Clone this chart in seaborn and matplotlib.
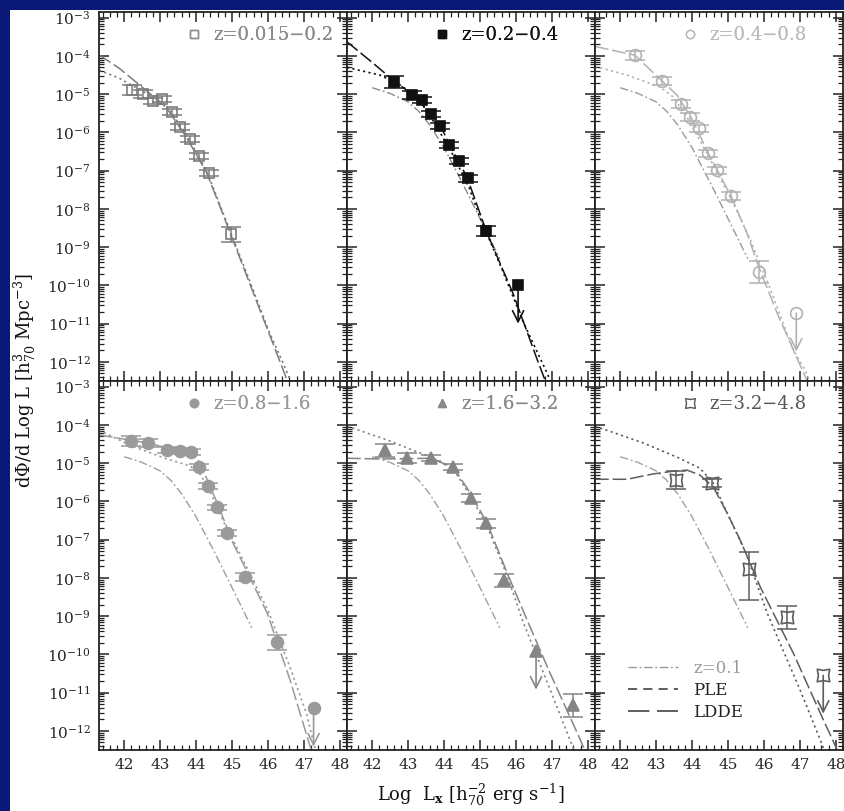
import numpy as np
import pandas as pd
import matplotlib
matplotlib.use("Agg")
import matplotlib.pyplot as plt
import seaborn as sns
from matplotlib.lines import Line2D
from matplotlib.patches import Rectangle
from matplotlib.path import Path
from matplotlib.ticker import FixedLocator, MultipleLocator, FuncFormatter, NullFormatter

sns.set_style("ticks")
plt.rcParams["font.family"] = ["DejaVu Serif", "DejaVu Sans"]
plt.rcParams["mathtext.fontset"] = "dejavuserif"

# ---------------- data (x: log L_x, y: log10 dPhi/dlogL) ----------------
panel_labels = ["z=0.015\u22120.2", "z=0.2\u22120.4", "z=0.4\u22120.8",
                "z=0.8\u22121.6", "z=1.6\u22123.2", "z=3.2\u22124.8"]
y_decades = [-3, -4, -5, -6, -7, -8, -9, -10, -11, -12]
x_ticks = [42, 43, 44, 45, 46, 47, 48]

# reference z=0.1 luminosity function (dash-dot)
z01_L = [42.0, 42.5, 43.0, 43.3, 43.6, 44.0, 44.5, 45.0, 45.55]
z01_phi = [-4.83, -4.98, -5.2, -5.45, -5.8, -6.4, -7.3, -8.25, -9.3]

# panel 1: z=0.015-0.2
p1_L = [42.22, 42.53, 42.80, 43.05, 43.33, 43.56, 43.83, 44.09, 44.36, 44.98]
p1_phi = [-4.89, -5.00, -5.18, -5.13, -5.47, -5.86, -6.17, -6.62, -7.06, -8.66]
p1_err = [0.14, 0.1, 0.08, 0.08, 0.08, 0.07, 0.07, 0.08, 0.08, 0.2]
p1_ldde_L = [41.3, 41.86, 42.43, 43.17, 43.73, 44.3, 44.65, 45.0, 45.76, 46.4, 46.7]
p1_ldde_phi = [-3.97, -4.32, -4.76, -5.34, -6.12, -7.06, -7.9, -8.75, -10.6, -12.15, -12.9]
p1_ple_L = [41.3, 41.86, 42.7, 43.17, 43.73, 44.29, 45.0, 45.5, 46.03, 46.5, 46.8]
p1_ple_phi = [-4.37, -4.58, -5.02, -5.3, -6.05, -7.0, -8.7, -9.9, -11.2, -12.2, -12.9]

# panel 2: z=0.2-0.4
p2_L = [42.61, 43.11, 43.39, 43.64, 43.89, 44.14, 44.42, 44.67, 45.17]
p2_phi = [-4.68, -5.02, -5.15, -5.52, -5.83, -6.33, -6.75, -7.2, -8.58]
p2_err = [0.15, 0.1, 0.08, 0.08, 0.08, 0.08, 0.08, 0.1, 0.13]
p2_lim_L = [46.06]
p2_lim_phi = [-10.0]
p2_ldde_L = [41.3, 41.99, 42.58, 43.11, 43.64, 43.89, 44.14, 44.64, 45.2, 45.92, 46.6, 46.9]
p2_ldde_phi = [-3.63, -4.16, -4.63, -5.0, -5.5, -5.8, -6.3, -7.17, -8.64, -10.21, -11.96, -12.7]
p2_ple_L = [41.3, 42.22, 42.78, 43.25, 43.7, 44.2, 44.7, 45.0, 45.6, 46.2, 46.87, 47.0]
p2_ple_phi = [-4.3, -4.5, -4.76, -5.07, -5.7, -6.5, -7.45, -8.22, -9.55, -10.95, -12.3, -12.6]

# panel 3: z=0.4-0.8
p3_L = [42.41, 43.17, 43.7, 43.95, 44.2, 44.45, 44.7, 45.09, 45.87]
p3_phi = [-3.98, -4.66, -5.26, -5.6, -5.89, -6.54, -6.99, -7.67, -9.65]
p3_err = [0.12, 0.1, 0.1, 0.1, 0.09, 0.09, 0.09, 0.1, 0.28]
p3_lim_L = [46.9]
p3_lim_phi = [-10.73]
p3_ldde_L = [41.3, 42.41, 43.17, 43.58, 44.0, 44.45, 45.09, 45.53, 45.87, 46.37, 47.07, 47.3]
p3_ldde_phi = [-3.75, -3.98, -4.66, -5.02, -5.65, -6.54, -7.67, -8.64, -9.55, -10.73, -12.22, -12.7]
p3_ple_L = [41.3, 42.19, 43.11, 43.47, 43.86, 44.45, 45.09, 45.6, 46.2, 46.82, 47.15, 47.4]
p3_ple_phi = [-4.27, -4.5, -4.81, -5.07, -5.6, -6.6, -7.75, -8.75, -10.15, -11.7, -12.22, -12.8]

# panel 4: z=0.8-1.6
p4_L = [42.19, 42.66, 43.19, 43.56, 43.86, 44.09, 44.34, 44.59, 44.86, 45.37, 46.26]
p4_phi = [-4.42, -4.47, -4.66, -4.68, -4.71, -5.1, -5.6, -6.15, -6.83, -7.98, -9.68]
p4_err = [0.13, 0.1, 0.08, 0.07, 0.07, 0.07, 0.07, 0.07, 0.08, 0.1, 0.2]
p4_lim_L = [47.27]
p4_lim_phi = [-11.41]
p4_ldde_L = [41.3, 42.19, 42.66, 43.19, 43.89, 44.11, 44.59, 45.03, 45.98, 46.62, 47.18, 47.4]
p4_ldde_phi = [-4.26, -4.4, -4.47, -4.6, -4.68, -5.0, -6.04, -7.09, -8.92, -10.68, -12.43, -13.0]
p4_ple_L = [41.3, 42.16, 43.19, 43.83, 44.11, 44.4, 44.8, 45.23, 46.0, 46.6, 47.07, 47.35]
p4_ple_phi = [-4.13, -4.53, -4.89, -5.07, -5.28, -5.75, -6.6, -7.38, -8.85, -10.3, -11.54, -12.6]

# panel 5: z=1.6-3.2
p5_L = [42.36, 42.97, 43.64, 44.25, 44.75, 45.17, 45.67, 47.6]
p5_phi = [-4.66, -4.87, -4.87, -5.1, -5.91, -6.57, -8.06, -11.33]
p5_err = [0.17, 0.13, 0.08, 0.08, 0.1, 0.12, 0.17, 0.3]
p5_lim_L = [46.56]
p5_lim_phi = [-9.92]
p5_ldde_L = [41.3, 42.22, 43.0, 43.61, 44.25, 44.73, 45.2, 45.76, 46.31, 46.95, 47.8, 48.0]
p5_ldde_phi = [-4.87, -4.89, -4.88, -4.87, -5.1, -5.78, -6.57, -7.88, -9.1, -10.49, -12.25, -12.7]
p5_ple_L = [41.3, 42.41, 43.33, 43.81, 44.25, 44.73, 45.2, 45.76, 46.2, 46.9, 47.51, 47.7]
p5_ple_phi = [-4.03, -4.39, -4.73, -4.92, -5.15, -5.85, -6.65, -7.95, -9.15, -10.8, -12.25, -12.7]

# panel 6: z=3.2-4.8
p6_L = [43.56, 44.56, 45.59, 46.65]
p6_phi = [-5.44, -5.52, -7.77, -9.03]
p6_err_lo = [0.24, 0.1, 0.8, 0.3]
p6_err_hi = [0.24, 0.1, 0.45, 0.3]
p6_lim_L = [47.65]
p6_lim_phi = [-10.55]
p6_ldde_L = [41.3, 42.19, 42.92, 43.47, 43.86, 44.22, 44.59, 44.98, 45.34, 45.9, 46.82, 47.57, 48.04, 48.3]
p6_ldde_phi = [-5.42, -5.42, -5.28, -5.21, -5.18, -5.31, -5.62, -6.31, -7.01, -8.24, -9.97, -11.54, -12.5, -13.0]
p6_ple_L = [41.3, 42.64, 43.58, 44.22, 44.59, 45.0, 45.5, 46.09, 47.01, 47.65, 47.9]
p6_ple_phi = [-4.03, -4.47, -4.84, -5.13, -5.52, -6.35, -7.35, -8.92, -10.94, -12.43, -13.0]

limit_drop = 1.0  # length of upper-limit arrows, in dex

# ---------------- styling ----------------
star_verts = []
for k in range(8):
    ang = np.deg2rad(45 * k)
    r = 0.58 if k % 2 == 0 else 1.0
    star_verts.append((r * np.cos(ang), r * np.sin(ang)))
star_verts.append(star_verts[0])
star_marker = Path(star_verts, closed=True)

LDDE_LS = (0, (9, 2.5))
PLE_LS = (0, (1.3, 2.0))
Z01_LS = (0, (6, 2, 1.3, 2))

panels = [
    dict(L=p1_L, phi=p1_phi, lo=p1_err, hi=p1_err, limL=[], limP=[],
         ldde=(p1_ldde_L, p1_ldde_phi), ple=(p1_ple_L, p1_ple_phi), show_z01=False,
         marker="s", ms=7.5, filled=False, color="#7c7c7c", z01c="#9c9c9c", txtc="#8a8a8a"),
    dict(L=p2_L, phi=p2_phi, lo=p2_err, hi=p2_err, limL=p2_lim_L, limP=p2_lim_phi,
         ldde=(p2_ldde_L, p2_ldde_phi), ple=(p2_ple_L, p2_ple_phi), show_z01=True,
         marker="s", ms=7, filled=True, color="#111111", z01c="#8a8a8a", txtc="#111111"),
    dict(L=p3_L, phi=p3_phi, lo=p3_err, hi=p3_err, limL=p3_lim_L, limP=p3_lim_phi,
         ldde=(p3_ldde_L, p3_ldde_phi), ple=(p3_ple_L, p3_ple_phi), show_z01=True,
         marker="o", ms=8.5, filled=False, color="#b2b2b2", z01c="#9a9a9a", txtc="#bcbcbc"),
    dict(L=p4_L, phi=p4_phi, lo=p4_err, hi=p4_err, limL=p4_lim_L, limP=p4_lim_phi,
         ldde=(p4_ldde_L, p4_ldde_phi), ple=(p4_ple_L, p4_ple_phi), show_z01=True,
         marker="o", ms=8.5, filled=True, color="#9a9a9a", z01c="#9e9e9e", txtc="#9a9a9a"),
    dict(L=p5_L, phi=p5_phi, lo=p5_err, hi=p5_err, limL=p5_lim_L, limP=p5_lim_phi,
         ldde=(p5_ldde_L, p5_ldde_phi), ple=(p5_ple_L, p5_ple_phi), show_z01=True,
         marker="^", ms=8, filled=True, color="#858585", z01c="#a0a0a0", txtc="#8a8a8a"),
    dict(L=p6_L, phi=p6_phi, lo=p6_err_lo, hi=p6_err_hi, limL=p6_lim_L, limP=p6_lim_phi,
         ldde=(p6_ldde_L, p6_ldde_phi), ple=(p6_ple_L, p6_ple_phi), show_z01=True,
         marker=star_marker, ms=9, filled=False, color="#5e5e5e", z01c="#a2a2a2", txtc="#555555"),
]

W, H = 845, 811
fig = plt.figure(figsize=(W / 100, H / 100), dpi=100)
fig.patch.set_facecolor("#0a1877")
fig.add_artist(Rectangle((10 / W, 0), 1, 1 - 10 / H, transform=fig.transFigure,
                         facecolor="white", edgecolor="none", zorder=-10))

left0, pw, top0, ph = 99, 248, 12, 369
axes = []
for r in range(2):
    for c in range(3):
        ax = fig.add_axes([(left0 + c * pw) / W, 1 - (top0 + (r + 1) * ph) / H, pw / W, ph / H])
        axes.append(ax)


def draw_curve(ax, xs, ys, color, ls, lw=1.1):
    df = pd.DataFrame({"L": xs, "phi": 10 ** np.asarray(ys, dtype=float)})
    sns.lineplot(data=df, x="L", y="phi", ax=ax, color=color, linestyle=ls,
                 linewidth=lw, estimator=None, sort=False, legend=False)


yfmt = FuncFormatter(lambda v, p: r"$10^{%d}$" % int(round(np.log10(v))))
minor_y = [m * 10.0 ** d for d in range(-13, -2) for m in range(2, 10)]

for i, (ax, p) in enumerate(zip(axes, panels)):
    ax.set_facecolor("white")
    ax.set_yscale("log")

    if p["show_z01"]:
        draw_curve(ax, z01_L, z01_phi, p["z01c"], Z01_LS, 1.0)
    draw_curve(ax, p["ple"][0], p["ple"][1], p["color"], PLE_LS, 1.2)
    draw_curve(ax, p["ldde"][0], p["ldde"][1], p["color"], LDDE_LS, 1.1)

    L = np.asarray(p["L"]); ph_ = np.asarray(p["phi"])
    lo = np.asarray(p["lo"]); hi = np.asarray(p["hi"])
    yv = 10 ** ph_
    yerr = [yv - 10 ** (ph_ - lo), 10 ** (ph_ + hi) - yv]
    mfc = p["color"] if p["filled"] else "none"
    ax.errorbar(L, yv, yerr=yerr, fmt="none", ecolor=p["color"], elinewidth=1.1,
                capsize=7, capthick=1.1, zorder=3)
    ax.plot(L, yv, ls="none", marker=p["marker"], ms=p["ms"], mfc=mfc,
            mec=p["color"], mew=1.2, zorder=4)
    for lx, lp in zip(p["limL"], p["limP"]):
        ax.plot([lx], [10 ** lp], ls="none", marker=p["marker"], ms=p["ms"], mfc=mfc,
                mec=p["color"], mew=1.2, zorder=4)
        ax.annotate("", xy=(lx, 10 ** (lp - limit_drop)), xytext=(lx, 10 ** lp),
                    arrowprops=dict(arrowstyle="->", color=p["color"], lw=1.2,
                                    shrinkA=0, shrinkB=0, mutation_scale=20), zorder=4)

    ax.set_xlim(41.3, 48.2)
    ax.set_ylim(10 ** -12.5, 10 ** -2.85)

    # panel redshift label
    h = Line2D([], [], ls="none", marker=p["marker"], ms=6 if p["marker"] != star_marker else 7,
               mfc=p["txtc"] if p["filled"] else "none", mec=p["txtc"], mew=1.0)
    leg = ax.legend(handles=[h], labels=[panel_labels[i]], loc="upper left",
                    bbox_to_anchor=(0.348, 0.962), frameon=False, borderpad=0,
                    borderaxespad=0, handlelength=1.0, handletextpad=0.55, fontsize=13)
    for t in leg.get_texts():
        t.set_color(p["txtc"])
    ax.add_artist(leg)

    # ticks
    ax.xaxis.set_major_locator(FixedLocator(x_ticks))
    ax.xaxis.set_minor_locator(MultipleLocator(0.2))
    ax.yaxis.set_major_locator(FixedLocator([10.0 ** d for d in y_decades]))
    ax.yaxis.set_minor_locator(FixedLocator(minor_y))
    ax.yaxis.set_minor_formatter(NullFormatter())
    ax.tick_params(which="both", direction="in", top=True, right=True, color="#222222")
    ax.tick_params(which="major", length=7, width=1.1, labelsize=11, pad=6)
    ax.tick_params(which="minor", length=3.5, width=0.9)
    ax.set_xlabel("")
    ax.set_ylabel("")
    for s in ax.spines.values():
        s.set_linewidth(1.3)
        s.set_color("#222222")
    if i % 3 == 0:
        ax.yaxis.set_major_formatter(yfmt)
    else:
        ax.yaxis.set_major_formatter(NullFormatter())
    if i < 3:
        ax.xaxis.set_major_formatter(NullFormatter())
    ax.set_xlim(41.3, 48.2)
    ax.set_ylim(10 ** -12.5, 10 ** -2.85)

# model legend in last panel
ax6 = axes[5]
leg_handles = [Line2D([], [], color="#9a9a9a", lw=1.0, ls=(0, (6, 2, 1.3, 2))),
               Line2D([], [], color="#333333", lw=1.1, ls=(0, (6, 4))),
               Line2D([], [], color="#333333", lw=1.1, ls=(0, (14, 5)))]
leg2 = ax6.legend(handles=leg_handles, labels=["z=0.1", "PLE", "LDDE"], loc="upper left",
                  bbox_to_anchor=(0.133, 0.245), frameon=False, borderpad=0, borderaxespad=0,
                  handlelength=3.0, handletextpad=0.9, labelspacing=0.3, fontsize=12)
leg_cols = ["#9a9a9a", "#222222", "#222222"]
for t, c in zip(leg2.get_texts(), leg_cols):
    t.set_color(c)

fig.text(25 / W, 1 - 381 / H, r"d$\Phi$/d Log L [h$^{3}_{70}$ Mpc$^{-3}$]",
         rotation=90, ha="center", va="center", fontsize=13, color="#111111")
fig.text(471 / W, 1 - 795 / H, r"Log  L$_{\mathbf{x}}$ [h$^{-2}_{70}$ erg s$^{-1}$]",
         ha="center", va="center", fontsize=13, color="#111111")

fig.savefig("out.png", dpi=100, facecolor=fig.get_facecolor())
